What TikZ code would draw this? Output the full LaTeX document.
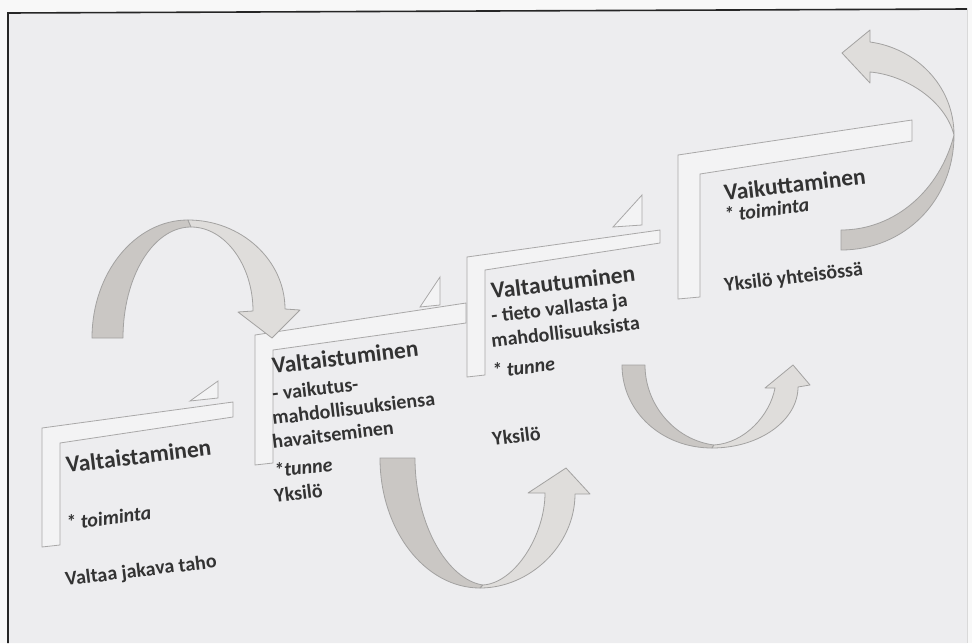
\documentclass[tikz,border=0pt]{standalone}
\usepackage{fontspec}
\setmainfont{Carlito}
\definecolor{pagewhite}{HTML}{F8F8F8}
\definecolor{bg}{HTML}{EDEDEF}
\definecolor{barfill}{HTML}{F3F3F4}
\definecolor{barline}{HTML}{A9A8A8}
\definecolor{banddark}{HTML}{CAC7C4}
\definecolor{bandlight}{HTML}{DFDDDB}
\definecolor{bandline}{HTML}{A3A2A1}
\definecolor{txt}{HTML}{333333}
\begin{document}
\begin{tikzpicture}[x=1pt,y=-1pt,
  stepbar/.style={fill=barfill, draw=barline, line width=0.8pt, line join=miter},
  darkpart/.style={fill=banddark, draw=bandline, line width=0.8pt, line join=round},
  lightpart/.style={fill=bandlight, draw=bandline, line width=0.8pt, line join=round},
  lbl/.style={inner sep=0pt, anchor=base west, rotate=7, text=txt},
  title/.style={lbl, font=\fontsize{23.5}{26}\selectfont\bfseries},
  sub/.style={lbl, font=\fontsize{20}{24}\selectfont\bfseries},
  act/.style={lbl, font=\fontsize{20}{24}\selectfont\bfseries\itshape}]

% page and frame
\useasboundingbox (0,0) rectangle (972,643);
\fill[pagewhite] (0,0) rectangle (972,643);
\fill[bg] (8,13) -- (967,9) -- (967,643) -- (8,643) -- cycle;
\draw[black!85, line width=1.6pt] (8,643) -- (8,13) -- (967,9);
\draw[black!15, line width=0.6pt] (967,9) -- (967,643);

% step 1
\filldraw[stepbar] (42,428) -- (233,402) -- (233,417) -- (60,443) -- (60,545) -- (42,547) -- cycle;
\filldraw[stepbar] (190,401) -- (218,381) -- (218,398) -- cycle;
% step 2
\filldraw[stepbar] (255,335) -- (466,303) -- (466,323) -- (273,350) -- (273,463) -- (255,465) -- cycle;
\filldraw[stepbar] (420,307) -- (440,277) -- (440,305) -- cycle;
% step 3
\filldraw[stepbar] (467,257) -- (660,230) -- (660,243) -- (485,270) -- (485,375) -- (467,377) -- cycle;
\filldraw[stepbar] (613,227) -- (642,195) -- (642,225) -- cycle;
% step 4
\filldraw[stepbar] (678,155) -- (912,120) -- (912,141) -- (700,174) -- (700,297) -- (678,299) -- cycle;

% arrow 1: arch from step 1 down onto step 2
\filldraw[darkpart] (92,338) .. controls (92,273) and (135,220) .. (188,220)
  -- (191,227) .. controls (153,227) and (123,277) .. (123,338) -- cycle;
\filldraw[lightpart] (188,220) .. controls (241,220) and (285,260) .. (285,309)
  -- (300,310) -- (272,338) -- (238,312) -- (253,311)
  .. controls (253,265) and (225,227) .. (191,227) -- cycle;

% arrow 2: U turn below steps 2 and 3
\filldraw[darkpart] (380,458) .. controls (380,530) and (425,588) .. (480,588)
  -- (483,585) .. controls (448,580) and (415,525) .. (415,458) -- cycle;
\filldraw[lightpart] (480,588) .. controls (530,588) and (575,545) .. (575,494)
  -- (590,494) -- (566,468) -- (528,493) -- (545,493)
  .. controls (545,535) and (515,583) .. (483,585) -- cycle;

% arrow 3: U turn below steps 3 and 4
\filldraw[darkpart] (622,365) .. controls (622,412) and (662,448) .. (712,448)
  -- (714,445) .. controls (675,440) and (645,405) .. (645,365) -- cycle;
\filldraw[lightpart] (712,448) .. controls (760,448) and (798,420) .. (798,387)
  -- (810,385) -- (793,365) -- (765,388) -- (775,388)
  .. controls (770,415) and (745,443) .. (714,445) -- cycle;

% arrow 4: loop up past step 4
\filldraw[darkpart] (841,250) .. controls (905,250) and (954,200) .. (954,135)
  .. controls (940,190) and (895,230) .. (841,230) -- cycle;
\filldraw[lightpart] (954,135) .. controls (954,85) and (915,48) .. (870,42)
  -- (870,30) -- (842,53) -- (870,83) -- (870,72)
  .. controls (905,75) and (945,100) .. (954,135) -- cycle;

% step texts
\node[title] (s1title) at (67,473) {Valtaistaminen};
\node[act]   (s1act)   at (67,530) {* toiminta};
\node[sub]   (s1who)   at (66,586) {Valtaa jakava taho};

\node[title] (s2title) at (273,374) {Valtaistuminen};
\node[sub]   (s2l1)    at (273,401) {- vaikutus-};
\node[sub]   (s2l2)    at (273,425) {mahdollisuuksiensa};
\node[sub]   (s2l3)    at (273,449) {havaitseminen};
\node[act]   (s2act)   at (275,478) {*tunne};
\node[sub]   (s2who)   at (275,503) {Yksilö};

\node[title] (s3title) at (492,299) {Valtautuminen};
\node[sub]   (s3l1)    at (492,323) {- tieto vallasta ja};
\node[sub]   (s3l2)    at (492,348) {mahdollisuuksista};
\node[act]   (s3act)   at (493,378) {* tunne};
\node[sub]   (s3who)   at (493,446) {Yksilö};

\node[title] (s4title) at (725,201) {Vaikuttaminen};
\node[act]   (s4act)   at (725,222) {* toiminta};
\node[sub]   (s4who)   at (725,292) {Yksilö yhteisössä};
\end{tikzpicture}
\end{document}
